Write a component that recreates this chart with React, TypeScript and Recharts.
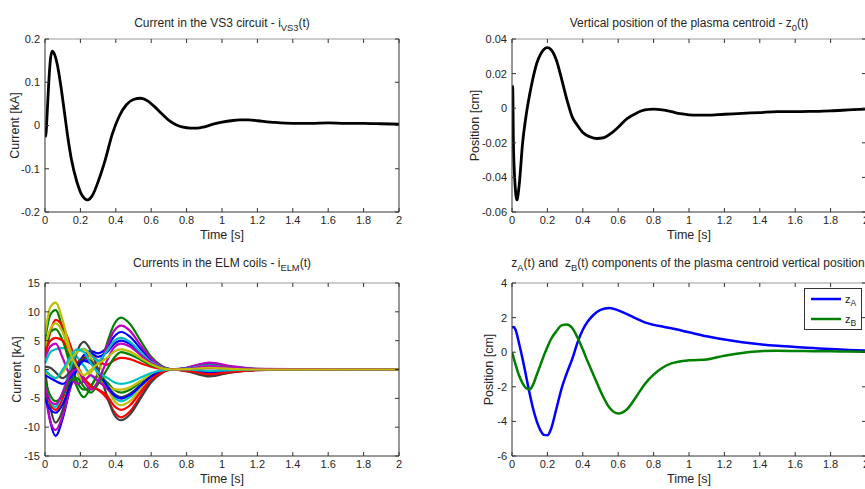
import React from 'react';
import { LineChart, Line, XAxis, YAxis, Legend } from 'recharts';

// shared time axis
const timeTicks = [0, 0.2, 0.4, 0.6, 0.8, 1, 1.2, 1.4, 1.6, 1.8, 2];

// Current in the VS3 circuit
const vs3Time = [0, 0.005, 0.01, 0.02, 0.03, 0.04, 0.05, 0.07, 0.09, 0.11, 0.13, 0.15, 0.18, 0.21, 0.24, 0.27, 0.3, 0.34, 0.38, 0.42, 0.46, 0.5, 0.54, 0.58, 0.62, 0.66, 0.7, 0.74, 0.78, 0.82, 0.86, 0.9, 0.95, 1.0, 1.05, 1.1, 1.15, 1.2, 1.3, 1.4, 1.5, 1.6, 1.7, 1.8, 1.9, 2.0];
const vs3Current = [-0.005, -0.025, 0.01, 0.09, 0.15, 0.172, 0.168, 0.14, 0.09, 0.03, -0.03, -0.08, -0.13, -0.162, -0.172, -0.16, -0.13, -0.08, -0.02, 0.022, 0.048, 0.06, 0.063, 0.057, 0.043, 0.027, 0.012, 0.002, -0.004, -0.006, -0.006, -0.003, 0.003, 0.008, 0.011, 0.013, 0.013, 0.011, 0.007, 0.005, 0.005, 0.006, 0.005, 0.005, 0.004, 0.003];
const vs3Ticks = [-0.2, -0.1, 0, 0.1, 0.2];

// Vertical position of the plasma centroid
const z0Time = [0, 0.004, 0.008, 0.015, 0.028, 0.04, 0.06, 0.08, 0.1, 0.12, 0.14, 0.16, 0.18, 0.2, 0.22, 0.25, 0.28, 0.31, 0.34, 0.37, 0.4, 0.44, 0.48, 0.52, 0.56, 0.6, 0.65, 0.7, 0.75, 0.8, 0.85, 0.9, 0.95, 1.0, 1.05, 1.1, 1.2, 1.3, 1.4, 1.5, 1.6, 1.7, 1.8, 1.9, 2.0];
const z0Position = [0.013, 0.012, -0.02, -0.04, -0.053, -0.045, -0.02, -0.004, 0.008, 0.018, 0.026, 0.031, 0.034, 0.035, 0.034, 0.028, 0.017, 0.005, -0.005, -0.01, -0.014, -0.0165, -0.0175, -0.017, -0.0145, -0.011, -0.006, -0.003, -0.001, -0.0005, -0.001, -0.002, -0.0032, -0.0038, -0.004, -0.004, -0.0035, -0.003, -0.0025, -0.002, -0.002, -0.0018, -0.0015, -0.001, -0.0005];
const z0Ticks = [-0.06, -0.04, -0.02, 0, 0.02, 0.04];

// Currents in the ELM coils
const elmTime = [0, 0.03, 0.06, 0.1, 0.14, 0.18, 0.22, 0.26, 0.3, 0.35, 0.39, 0.43, 0.48, 0.54, 0.6, 0.66, 0.72, 0.8, 0.93, 1.05, 1.2, 1.4, 1.7, 2.0];
const elmCoils = [
  [-3, -9, -11.5, -8.5, -3.5, 0.5, 2.5, 3.2, 2.8, 3.8, 5.7, 6.5, 5.7, 3.6, 1.6, 0.5, 0, 0.2, 0.8, 0.4, 0.05, 0, 0, 0],
  [5, 9.5, 10.3, 7, 2, -2, -3.5, -2.8, -0.5, 4.5, 7.8, 9, 7.9, 5, 2.2, 0.6, 0, 0.3, 1.1, 0.5, 0.1, 0, 0, 0],
  [2, 6.5, 8.6, 7.5, 4.5, 1, -1.5, -2.8, -3.5, -5, -7.3, -8.3, -7.3, -4.6, -2, -0.6, 0, -0.3, -1, -0.5, -0.1, 0, 0, 0],
  [1, 3, 3.5, 3.7, 3.3, 2.2, 0.6, -1, -2, -3.2, -4.8, -5.5, -4.8, -3, -1.3, -0.4, 0, -0.2, -0.7, -0.3, -0.05, 0, 0, 0],
  [-4, -9, -10.5, -8, -3.5, 0, 1.8, 1.3, 1, 4, 6.7, 7.6, 6.7, 4.2, 1.9, 0.5, 0, 0.3, 1.2, 0.6, 0.1, 0.05, 0.05, 0],
  [6, 10.8, 11.6, 8.5, 3.5, -0.5, -2, -0.5, 1, -2.8, -5.4, -6.2, -5.5, -3.4, -1.5, -0.4, 0, -0.1, -0.4, -0.2, 0, 0, 0, 0],
  [0, -6.5, -9.2, -7, -2, 3, 4.8, 3.2, 0, -4.5, -7.8, -8.8, -7.8, -5, -2.2, -0.6, 0, -0.3, -1.2, -0.5, -0.1, 0, 0, 0],
  [-5, -7, -7.5, -6, -3, 0, 1.8, 2.8, 2.2, 3, 4.4, 5, 4.4, 2.8, 1.2, 0.3, 0, 0.15, 0.6, 0.3, 0.05, 0, 0, 0],
  [3, 6.5, 7, 5, 1, -3, -4.8, -3, -1.2, -2.2, -3.5, -4, -3.5, -2.2, -1, -0.3, 0, -0.1, -0.5, -0.2, 0, 0, 0, 0],
  [-2, -6, -7, -5, -1.5, 1, 2, 2.4, 1.5, 0.8, 1.6, 2, 1.8, 1.1, 0.5, 0.1, 0, 0.05, 0.25, 0.1, 0, 0, 0, 0],
  [-2.5, -5.5, -6.5, -4, 0, 3, 3.6, 2.5, 1.5, 3.2, 4.9, 5.5, 4.8, 3, 1.3, 0.4, 0, 0.15, 0.7, 0.3, 0.05, 0, 0, 0],
  [2, 4, 4.5, 2, -1, -2.5, -2, -1, -2, -3.3, -4.5, -5, -4.4, -2.8, -1.2, -0.3, 0, -0.15, -0.6, -0.3, -0.05, 0, 0, 0],
  [-0.5, -1, -1.5, -0.5, 1.5, 3, 3.5, 2, -1, -2.7, -3.4, -3.5, -3.1, -2, -0.9, -0.2, 0, -0.05, -0.4, -0.2, 0, 0, 0, 0],
  [0.5, 0.3, -0.5, -1.5, -0.5, 1, 2, 1.5, -0.5, -2.8, -4.2, -4.8, -4.2, -2.7, -1.2, -0.3, 0, -0.1, -0.6, -0.3, -0.05, 0, 0, 0],
  [-1, -1.5, -2, -2.5, -1.5, 0.5, 1.5, 1, -0.5, -2.8, -4.4, -5, -4.4, -2.8, -1.2, -0.3, 0, -0.1, -0.5, -0.2, 0, 0, 0, 0],
  [-2, -4.5, -5.5, -4.5, -2, -1.5, -3, -4, -2.5, 0, 2, 3, 2.6, 1.7, 0.7, 0.2, 0, 0.05, 0.35, 0.15, 0, 0, 0, 0],
  [3, 5, 5.5, 5, 3, 0.5, -1.5, -3, -3.5, -4.5, -6.3, -7, -6.2, -3.9, -1.7, -0.5, 0, -0.2, -0.8, -0.4, -0.05, 0, 0, 0],
  [0, -1, -1.5, 0, 2, 3.5, 3, 1, -0.5, -1.4, -2.2, -2.5, -2.2, -1.4, -0.6, -0.15, 0, 0, -0.25, -0.1, 0, 0, 0, 0],
  [-3, -5.5, -6, -4, -1, 0, -2, -3.5, -2, 1.5, 3.8, 4.5, 4, 2.5, 1.1, 0.3, 0, 0.1, 0.6, 0.3, 0.05, 0.05, 0.03, 0],
  [4, 7, 8, 6.5, 3, 0.5, -1, 0, 1, 2, 3.1, 3.5, 3.1, 2, 0.9, 0.2, 0, 0.05, 0.3, 0.1, 0, 0, 0, 0],
];
const elmColors = ['#0000ff', '#008000', '#ff0000', '#00bfbf', '#bf00bf', '#bfbf00', '#404040'];
const elmTicks = [-15, -10, -5, 0, 5, 10, 15];

// zA / zB components
const zTime = [0, 0.01, 0.02, 0.04, 0.06, 0.08, 0.1, 0.12, 0.14, 0.16, 0.18, 0.2, 0.22, 0.25, 0.28, 0.31, 0.34, 0.37, 0.4, 0.43, 0.46, 0.5, 0.55, 0.6, 0.65, 0.7, 0.75, 0.8, 0.85, 0.9, 1.0, 1.1, 1.2, 1.3, 1.4, 1.5, 1.6, 1.7, 1.8, 1.9, 2.0];
const zA = [1.42, 1.45, 1.3, 0.5, -0.4, -1.4, -2.4, -3.3, -4.0, -4.5, -4.78, -4.8, -4.45, -3.3, -2.1, -1.2, -0.4, 0.55, 1.3, 1.8, 2.15, 2.45, 2.56, 2.42, 2.2, 1.95, 1.72, 1.58, 1.48, 1.38, 1.15, 0.92, 0.73, 0.58, 0.46, 0.37, 0.3, 0.24, 0.18, 0.13, 0.1];
const zB = [0, -0.35, -0.7, -1.35, -1.8, -2.08, -2.15, -1.85, -1.3, -0.75, -0.2, 0.3, 0.75, 1.2, 1.55, 1.6, 1.4, 0.85, 0.15, -0.6, -1.3, -2.25, -3.2, -3.55, -3.3, -2.6, -1.85, -1.3, -0.9, -0.65, -0.47, -0.42, -0.2, -0.04, 0.06, 0.08, 0.07, 0.06, 0.05, 0.04, 0.03];
const zTicks = [-6, -4, -2, 0, 2, 4];

const FONT = '"Liberation Sans", Arial, Helvetica, sans-serif';
const INK = '#262626';
const W = 420;
const H = 250;
const MARGIN = { top: 39, right: 21, bottom: 8, left: 5 };

const vs3Data = vs3Time.map((t, i) => ({ t, v: vs3Current[i] }));
const z0Data = z0Time.map((t, i) => ({ t, v: z0Position[i] }));
const elmData = elmTime.map((t, i) => {
  const row: Record<string, number> = { t };
  elmCoils.forEach((c, k) => { row['c' + k] = c[i]; });
  return row;
});
const zData = zTime.map((t, i) => ({ t, a: zA[i], b: zB[i] }));

const blank = () => '';

// axes + inward MATLAB-style tick marks round the box
function frame(yDomain: number[], yTicks: number[], yLabel: string, yLabelOffset: number) {
  const tickStyle = { fontSize: 11, fill: INK, fontFamily: FONT };
  const labelStyle = { fill: INK, fontSize: 12.5, fontFamily: FONT };
  return [
    <XAxis key="x" type="number" dataKey="t" domain={[0, 2]} ticks={timeTicks} interval={0} allowDataOverflow
      tickLine={false} tickSize={0} tickMargin={4} height={30} axisLine={{ stroke: '#333' }} tick={tickStyle}
      label={{ value: 'Time [s]', position: 'insideBottom', offset: 3, ...labelStyle }} />,
    <XAxis key="xb" xAxisId="xb" type="number" dataKey="t" domain={[0, 2]} ticks={timeTicks} interval={0} mirror allowDataOverflow
      orientation="bottom" tickSize={4} tickFormatter={blank} axisLine={false} tickLine={{ stroke: '#333' }} />,
    <XAxis key="xt" xAxisId="xt" type="number" dataKey="t" domain={[0, 2]} ticks={timeTicks} interval={0} mirror allowDataOverflow
      orientation="top" tickSize={4} tickFormatter={blank} axisLine={{ stroke: '#999' }} tickLine={{ stroke: '#333' }} />,
    <YAxis key="y" type="number" domain={yDomain} ticks={yTicks} interval={0} allowDataOverflow
      tickLine={false} tickSize={0} tickMargin={5} width={40} axisLine={{ stroke: '#333' }} tick={tickStyle}
      label={{ value: yLabel, angle: -90, position: 'insideLeft', offset: yLabelOffset, style: { textAnchor: 'middle' }, ...labelStyle }} />,
    <YAxis key="yl" yAxisId="yl" type="number" domain={yDomain} ticks={yTicks} interval={0} mirror allowDataOverflow
      orientation="left" tickSize={4} tickFormatter={blank} axisLine={false} tickLine={{ stroke: '#333' }} />,
    <YAxis key="yr" yAxisId="yr" type="number" domain={yDomain} ticks={yTicks} interval={0} mirror allowDataOverflow
      orientation="right" tickSize={4} tickFormatter={blank} axisLine={{ stroke: '#333' }} tickLine={{ stroke: '#333' }} />,
  ];
}

const subStyle: React.CSSProperties = { fontSize: '0.78em', verticalAlign: '-0.4em', lineHeight: 0 };

function Title({ cx, top, children }: { cx: number; top: number; children: React.ReactNode }) {
  return (
    <div style={{ position: 'absolute', left: cx - 220, width: 440, top, textAlign: 'center', fontFamily: FONT, fontSize: 12, lineHeight: '14px', color: INK, whiteSpace: 'pre' }}>
      {children}
    </div>
  );
}

function ZLegend(props: any) {
  const payload = props.payload || [];
  return (
    <div style={{ position: 'relative', width: 58, height: 42, border: '1px solid #333', boxSizing: 'border-box', background: '#fff', fontFamily: FONT, fontSize: 11, color: INK }}>
      {payload.map((p: any, i: number) => (
        <div key={i} style={{ position: 'absolute', left: 6, top: 4 + i * 20, height: 12, display: 'flex', alignItems: 'center', lineHeight: '12px' }}>
          <svg width={30} height={4} style={{ display: 'block' }}>
            <line x1={0} x2={30} y1={2} y2={2} stroke={p.color} strokeWidth={2.5} />
          </svg>
          <span style={{ marginLeft: 4 }}>z<sub style={subStyle}>{p.value}</sub></span>
        </div>
      ))}
    </div>
  );
}

export default function App() {
  return (
    <div style={{ position: 'absolute', left: 0, top: 0, width: 865, height: 489, overflow: 'hidden', background: '#fff' }}>
      <Title cx={222} top={16}>Current in the VS3 circuit - i<sub style={subStyle}>VS3</sub>(t)</Title>
      <Title cx={689} top={16}>Vertical position of the plasma centroid - z<sub style={subStyle}>0</sub>(t)</Title>
      <Title cx={222} top={256}>Currents in the ELM coils - i<sub style={subStyle}>ELM</sub>(t)</Title>
      <Title cx={688} top={256}>z<sub style={subStyle}>A</sub>(t) and  z<sub style={subStyle}>B</sub>(t) components of the plasma centroid vertical position</Title>

      <div style={{ position: 'absolute', left: 0, top: 0 }}>
        <LineChart width={W} height={H} data={vs3Data} margin={MARGIN}>
          {frame([-0.2, 0.2], vs3Ticks, 'Current [kA]', 10)}
          <Line dataKey="v" type="monotone" stroke="#000" strokeWidth={2.8} dot={false} isAnimationActive={false} />
        </LineChart>
      </div>

      <div style={{ position: 'absolute', left: 467, top: 0 }}>
        <LineChart width={W} height={H} data={z0Data} margin={MARGIN}>
          {frame([-0.06, 0.04], z0Ticks, 'Position [cm]', 3)}
          <Line dataKey="v" type="monotone" stroke="#000" strokeWidth={2.8} dot={false} isAnimationActive={false} />
        </LineChart>
      </div>

      <div style={{ position: 'absolute', left: 0, top: 243.5 }}>
        <LineChart width={W} height={H} data={elmData} margin={MARGIN}>
          {frame([-15, 15], elmTicks, 'Current [kA]', 12)}
          {elmCoils.map((_, k) => (
            <Line key={k} dataKey={'c' + k} type="monotone" stroke={elmColors[k % elmColors.length]} strokeWidth={2.2}
              dot={false} isAnimationActive={false} />
          ))}
        </LineChart>
      </div>

      <div style={{ position: 'absolute', left: 467, top: 243.5 }}>
        <LineChart width={W} height={H} data={zData} margin={MARGIN}>
          {frame([-6, 4], zTicks, 'Position [cm]', 17)}
          <Line dataKey="a" name="A" type="monotone" stroke="#0000ff" strokeWidth={2.5} dot={false} isAnimationActive={false} />
          <Line dataKey="b" name="B" type="monotone" stroke="#008000" strokeWidth={2.5} dot={false} isAnimationActive={false} />
          <Legend layout="horizontal" verticalAlign="middle" align="center" content={ZLegend}
            wrapperStyle={{ left: 337, top: 44.5, width: 58, height: 42 }} />
        </LineChart>
      </div>
    </div>
  );
}
